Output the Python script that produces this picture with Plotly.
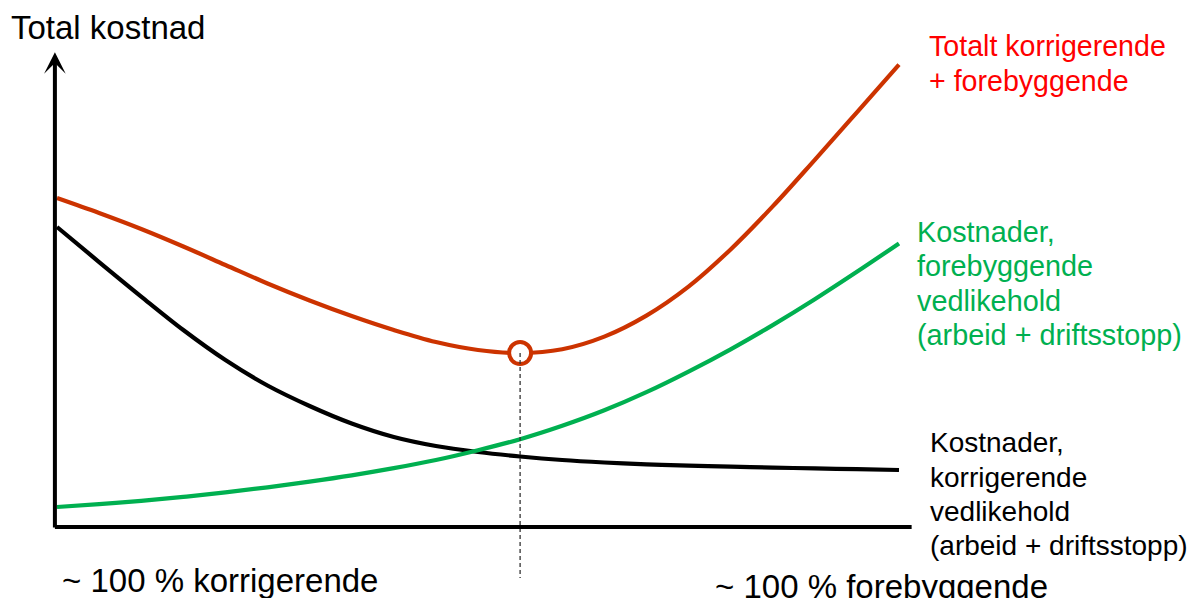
import plotly.graph_objects as go

# Andel forebyggende vedlikehold (%): 0 = alt korrigerende, 100 = alt forebyggende
andel_forebyggende = [0, 5, 10, 15, 20, 25, 30, 35, 40, 45, 50,
                      55, 60, 65, 70, 75, 80, 85, 90, 95, 100]

# Kostnadskurver (relative enheter)
kost_total = [69.70, 66.53, 63.14, 59.43, 55.51, 51.59, 47.99, 44.70, 41.74, 39.19, 37.50,
              36.86, 37.67, 40.34, 44.79, 50.93, 58.81, 67.92, 77.80, 87.86, 97.97]
kost_korrigerende = [63.56, 56.14, 48.83, 41.74, 35.38, 29.98, 25.64, 21.93, 19.07, 17.16, 15.89,
                     14.94, 14.19, 13.67, 13.28, 13.01, 12.78, 12.58, 12.42, 12.25, 12.08]
kost_forebyggende = [4.24, 4.85, 5.55, 6.38, 7.33, 8.41, 9.62, 10.95, 12.46, 14.19, 16.27,
                     18.60, 21.44, 24.72, 28.56, 32.92, 37.65, 42.78, 48.26, 54.07, 60.08]

aksetittel = "Total kostnad"
tekst_venstre = "~ 100 % korrigerende"
tekst_hoyre = "~ 100 % forebyggende"
etikett_total = ["Totalt korrigerende", "+ forebyggende"]
etikett_forebyggende = ["Kostnader,", "forebyggende", "vedlikehold", "(arbeid + driftsstopp)"]
etikett_korrigerende = ["Kostnader,", "korrigerende", "vedlikehold", "(arbeid + driftsstopp)"]

W, H = 1203, 598
FONT = "Liberation Sans, Arial, sans-serif"
ROD_LINJE = "#CC3300"
ROD_TEKST = "#FF0000"
GRONN = "#00B050"
SVART = "#000000"

# Optimum: lowest total cost
i_min = min(range(len(kost_total)), key=lambda i: kost_total[i])
x_opt = andel_forebyggende[i_min]
y_opt = kost_total[i_min]

fig = go.Figure()

for y, farge in [(kost_korrigerende, SVART), (kost_forebyggende, GRONN), (kost_total, ROD_LINJE)]:
    fig.add_trace(go.Scatter(
        x=andel_forebyggende, y=y, mode="lines",
        line=dict(color=farge, width=4.2, shape="spline", smoothing=1.0),
        hoverinfo="skip", showlegend=False,
    ))

# Marker at the optimum
fig.add_trace(go.Scatter(
    x=[x_opt], y=[y_opt], mode="markers",
    marker=dict(symbol="circle", size=22, color="white",
                line=dict(color=ROD_LINJE, width=4)),
    hoverinfo="skip", showlegend=False,
))

# Dashed guide down from the optimum
fig.add_trace(go.Scatter(
    x=[x_opt, x_opt], y=[y_opt, -10.8], mode="lines",
    line=dict(color="#333333", width=1.3, dash="4px,3px"),
    hoverinfo="skip", showlegend=False,
))

# Axes drawn as lines; y-axis with arrow head
fig.add_shape(type="line", xref="x", yref="y", x0=-0.25, x1=101.5, y0=0, y1=0,
              line=dict(color=SVART, width=4))
fig.add_annotation(x=-0.25, y=100.6, ax=-0.25, ay=-0.4, xref="x", yref="y",
                   axref="x", ayref="y", text="", showarrow=True,
                   arrowhead=3, arrowsize=0.9, arrowwidth=4, arrowcolor=SVART)


def px(x):
    return x / W


def py(y):
    return 1 - y / H


def tekst(t, x, y, farge, size):
    fig.add_annotation(text=t, x=px(x), y=py(y), xref="paper", yref="paper",
                       xanchor="left", yanchor="middle", showarrow=False,
                       font=dict(family=FONT, size=size, color=farge))


tekst(aksetittel, 9, 28, SVART, 33)
tekst(tekst_venstre, 60, 580, SVART, 33)
tekst(tekst_hoyre, 713, 586, SVART, 33)

for k, linje in enumerate(etikett_total):
    tekst(linje, 927, 46 + 35 * k, ROD_TEKST, 28.6)
for k, linje in enumerate(etikett_forebyggende):
    tekst(linje, 915, 232 + 34.3 * k, GRONN, 28.8)
for k, linje in enumerate(etikett_korrigerende):
    tekst(linje, 928, 443 + 34.3 * k, SVART, 28)

fig.update_layout(
    width=W, height=H,
    margin=dict(l=0, r=0, t=0, b=0),
    paper_bgcolor="white", plot_bgcolor="white",
    xaxis=dict(range=[-57 / 8.42, (W - 57) / 8.42], visible=False, fixedrange=True),
    yaxis=dict(range=[(527 - H) / 4.72, 527 / 4.72], visible=False, fixedrange=True),
    showlegend=False,
)

fig.write_html("out.html")
